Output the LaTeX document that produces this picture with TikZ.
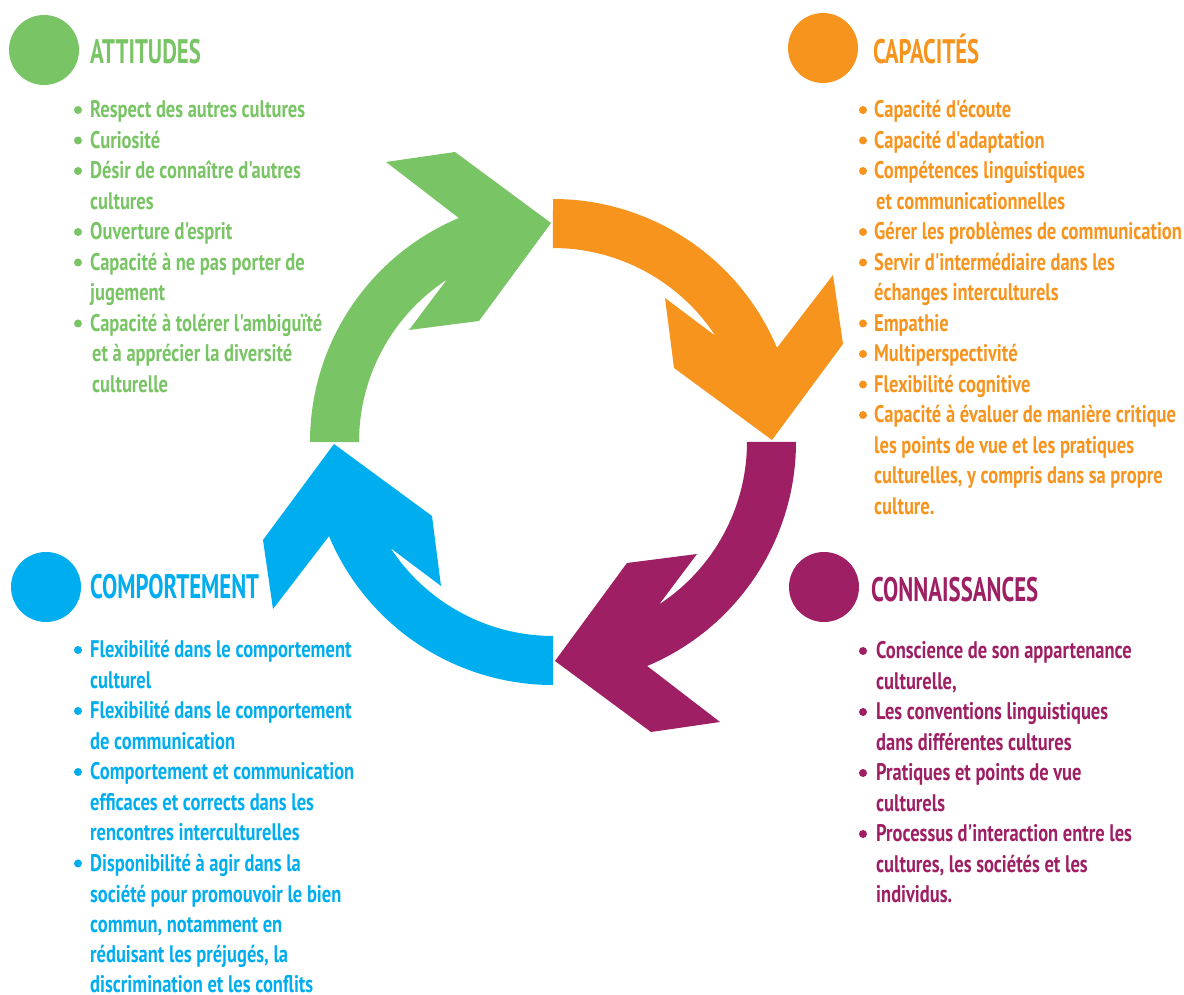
\documentclass[tikz,border=0pt]{standalone}
\usepackage{fontspec}
\setmainfont{PT Sans}[FakeStretch=0.77, Ligatures=TeXOff]
\newfontfamily\headfont{PT Sans}[FakeStretch=0.67, Ligatures=TeXOff]
\definecolor{cgreen}{HTML}{79C465}
\definecolor{corange}{HTML}{F7941E}
\definecolor{cpurple}{HTML}{9E1F63}
\definecolor{cblue}{HTML}{00AEEF}
\tikzset{
  bodytext/.style={anchor=base west, inner sep=0pt, font=\fontsize{24}{24}\selectfont\bfseries},
  headtext/.style={anchor=base west, inner sep=0pt, font=\headfont\fontsize{34}{34}\selectfont\bfseries},
  bulletdot/.style={circle, fill, inner sep=0pt, minimum size=8pt},
  bigdot/.style={circle, fill, inner sep=0pt, minimum size=70pt},
}
% #1 name, #2 colour, #3 x, #4 image baseline y, #5 text
\newcommand\tline[5]{\node[bodytext, text=#2] (#1) at (#3,{994-#4}) {#5};}
% #1 name, #2 colour, #3 x, #4 image baseline y
\newcommand\tbul[4]{\node[bulletdot, fill=#2] (#1) at (#3,{994-#4+8}) {};}
\newcommand\cyclearrow{%
  (-243,0) arc[start angle=180, end angle=112.8, radius=243pt]
  -- (-167,280) -- (-98,290) -- (-2,219) -- (-74,121) -- (-144,112)
  -- (-106.2,162.3) arc[start angle=123.2, end angle=180, radius=194pt] -- cycle}
\begin{document}
\begin{tikzpicture}[x=1pt,y=1pt]
\useasboundingbox (0,0) rectangle (1184,994);
\fill[white] (0,0) rectangle (1184,994);

% arrows
\begin{scope}[shift={(553,552)}]
  \fill[cgreen] \cyclearrow;
  \fill[corange, rotate=-90] \cyclearrow;
  \fill[cpurple, rotate=-180] \cyclearrow;
  \fill[cblue, rotate=-270] \cyclearrow;
\end{scope}

% circles and headings
\node[bigdot, fill=cgreen] (cg) at (44,{994-50}) {};
\node[bigdot, fill=corange] (co) at (823,{994-48}) {};
\node[bigdot, fill=cblue] (cb) at (46,{994-587}) {};
\node[bigdot, fill=cpurple] (cp) at (824,{994-587}) {};
\node[headtext, text=cgreen] (hg) at (90,{994-64}) {ATTITUDES};
\node[headtext, text=corange] (ho) at (873,{994-64}) {CAPACITÉS};
\node[headtext, text=cblue] (hb) at (90,{994-599}) {COMPORTEMENT};
\node[headtext, text=cpurple] (hp) at (871,{994-602}) {CONNAISSANCES};

% ATTITUDES
\tbul{bg1}{cgreen}{78}{118}
\tline{g1}{cgreen}{90}{118}{Respect des autres cultures}
\tbul{bg2}{cgreen}{78}{148.5}
\tline{g2}{cgreen}{90}{148.5}{Curiosité}
\tbul{bg3}{cgreen}{78}{179}
\tline{g3}{cgreen}{90}{179}{Désir de connaître d'autres}
\tline{g4}{cgreen}{90}{209.5}{cultures}
\tbul{bg5}{cgreen}{78}{240}
\tline{g5}{cgreen}{90}{240}{Ouverture d'esprit}
\tbul{bg6}{cgreen}{78}{270.5}
\tline{g6}{cgreen}{90}{270.5}{Capacité à ne pas porter de}
\tline{g7}{cgreen}{90}{301}{jugement}
\tbul{bg8}{cgreen}{78}{331.5}
\tline{g8}{cgreen}{90}{331.5}{Capacité à tolérer l'ambiguïté}
\tline{g9}{cgreen}{92}{362}{et à apprécier la diversité}
\tline{g10}{cgreen}{92}{392.5}{culturelle}

% CAPACITES
\tbul{bo1}{corange}{863}{118}
\tline{o1}{corange}{874}{118}{Capacité d'écoute}
\tbul{bo2}{corange}{863}{148.5}
\tline{o2}{corange}{874}{148.5}{Capacité d'adaptation}
\tbul{bo3}{corange}{863}{179}
\tline{o3}{corange}{874}{179}{Compétences linguistiques}
\tline{o4}{corange}{876}{209.5}{et communicationnelles}
\tbul{bo5}{corange}{863}{240}
\tline{o5}{corange}{874}{240}{Gérer les problèmes de communication}
\tbul{bo6}{corange}{863}{270.5}
\tline{o6}{corange}{874}{270.5}{Servir d'intermédiaire dans les}
\tline{o7}{corange}{874}{301}{échanges interculturels}
\tbul{bo8}{corange}{863}{331.5}
\tline{o8}{corange}{874}{331.5}{Empathie}
\tbul{bo9}{corange}{863}{362}
\tline{o9}{corange}{874}{362}{Multiperspectivité}
\tbul{bo10}{corange}{863}{392.5}
\tline{o10}{corange}{874}{392.5}{Flexibilité cognitive}
\tbul{bo11}{corange}{863}{423}
\tline{o11}{corange}{874}{423}{Capacité à évaluer de manière critique}
\tline{o12}{corange}{874}{453.5}{les points de vue et les pratiques}
\tline{o13}{corange}{874}{484}{culturelles, y compris dans sa propre}
\tline{o14}{corange}{874}{514.5}{culture.}

% COMPORTEMENT
\tbul{bb1}{cblue}{78}{658}
\tline{b1}{cblue}{90}{658}{Flexibilité dans le comportement}
\tline{b2}{cblue}{90}{688.5}{culturel}
\tbul{bb3}{cblue}{78}{719}
\tline{b3}{cblue}{90}{719}{Flexibilité dans le comportement}
\tline{b4}{cblue}{90}{749.5}{de communication}
\tbul{bb5}{cblue}{78}{780}
\tline{b5}{cblue}{90}{780}{Comportement et communication}
\tline{b6}{cblue}{90}{810.5}{efficaces et corrects dans les}
\tline{b7}{cblue}{90}{841}{rencontres interculturelles}
\tbul{bb8}{cblue}{78}{871.5}
\tline{b8}{cblue}{90}{871.5}{Disponibilité à agir dans la}
\tline{b9}{cblue}{90}{902}{société pour promouvoir le bien}
\tline{b10}{cblue}{90}{932.5}{commun, notamment en}
\tline{b11}{cblue}{90}{963}{réduisant les préjugés, la}
\tline{b12}{cblue}{90}{992}{discrimination et les conflits}

% CONNAISSANCES
\tbul{bp1}{cpurple}{863}{659}
\tline{p1}{cpurple}{876}{659}{Conscience de son appartenance}
\tline{p2}{cpurple}{876}{689.5}{culturelle,}
\tbul{bp3}{cpurple}{863}{720}
\tline{p3}{cpurple}{876}{720}{Les conventions linguistiques}
\tline{p4}{cpurple}{876}{750.5}{dans différentes cultures}
\tbul{bp5}{cpurple}{863}{781}
\tline{p5}{cpurple}{876}{781}{Pratiques et points de vue}
\tline{p6}{cpurple}{876}{811.5}{culturels}
\tbul{bp7}{cpurple}{863}{842}
\tline{p7}{cpurple}{876}{842}{Processus d'interaction entre les}
\tline{p8}{cpurple}{876}{872.5}{cultures, les sociétés et les}
\tline{p9}{cpurple}{876}{903}{individus.}
\end{tikzpicture}
\end{document}
